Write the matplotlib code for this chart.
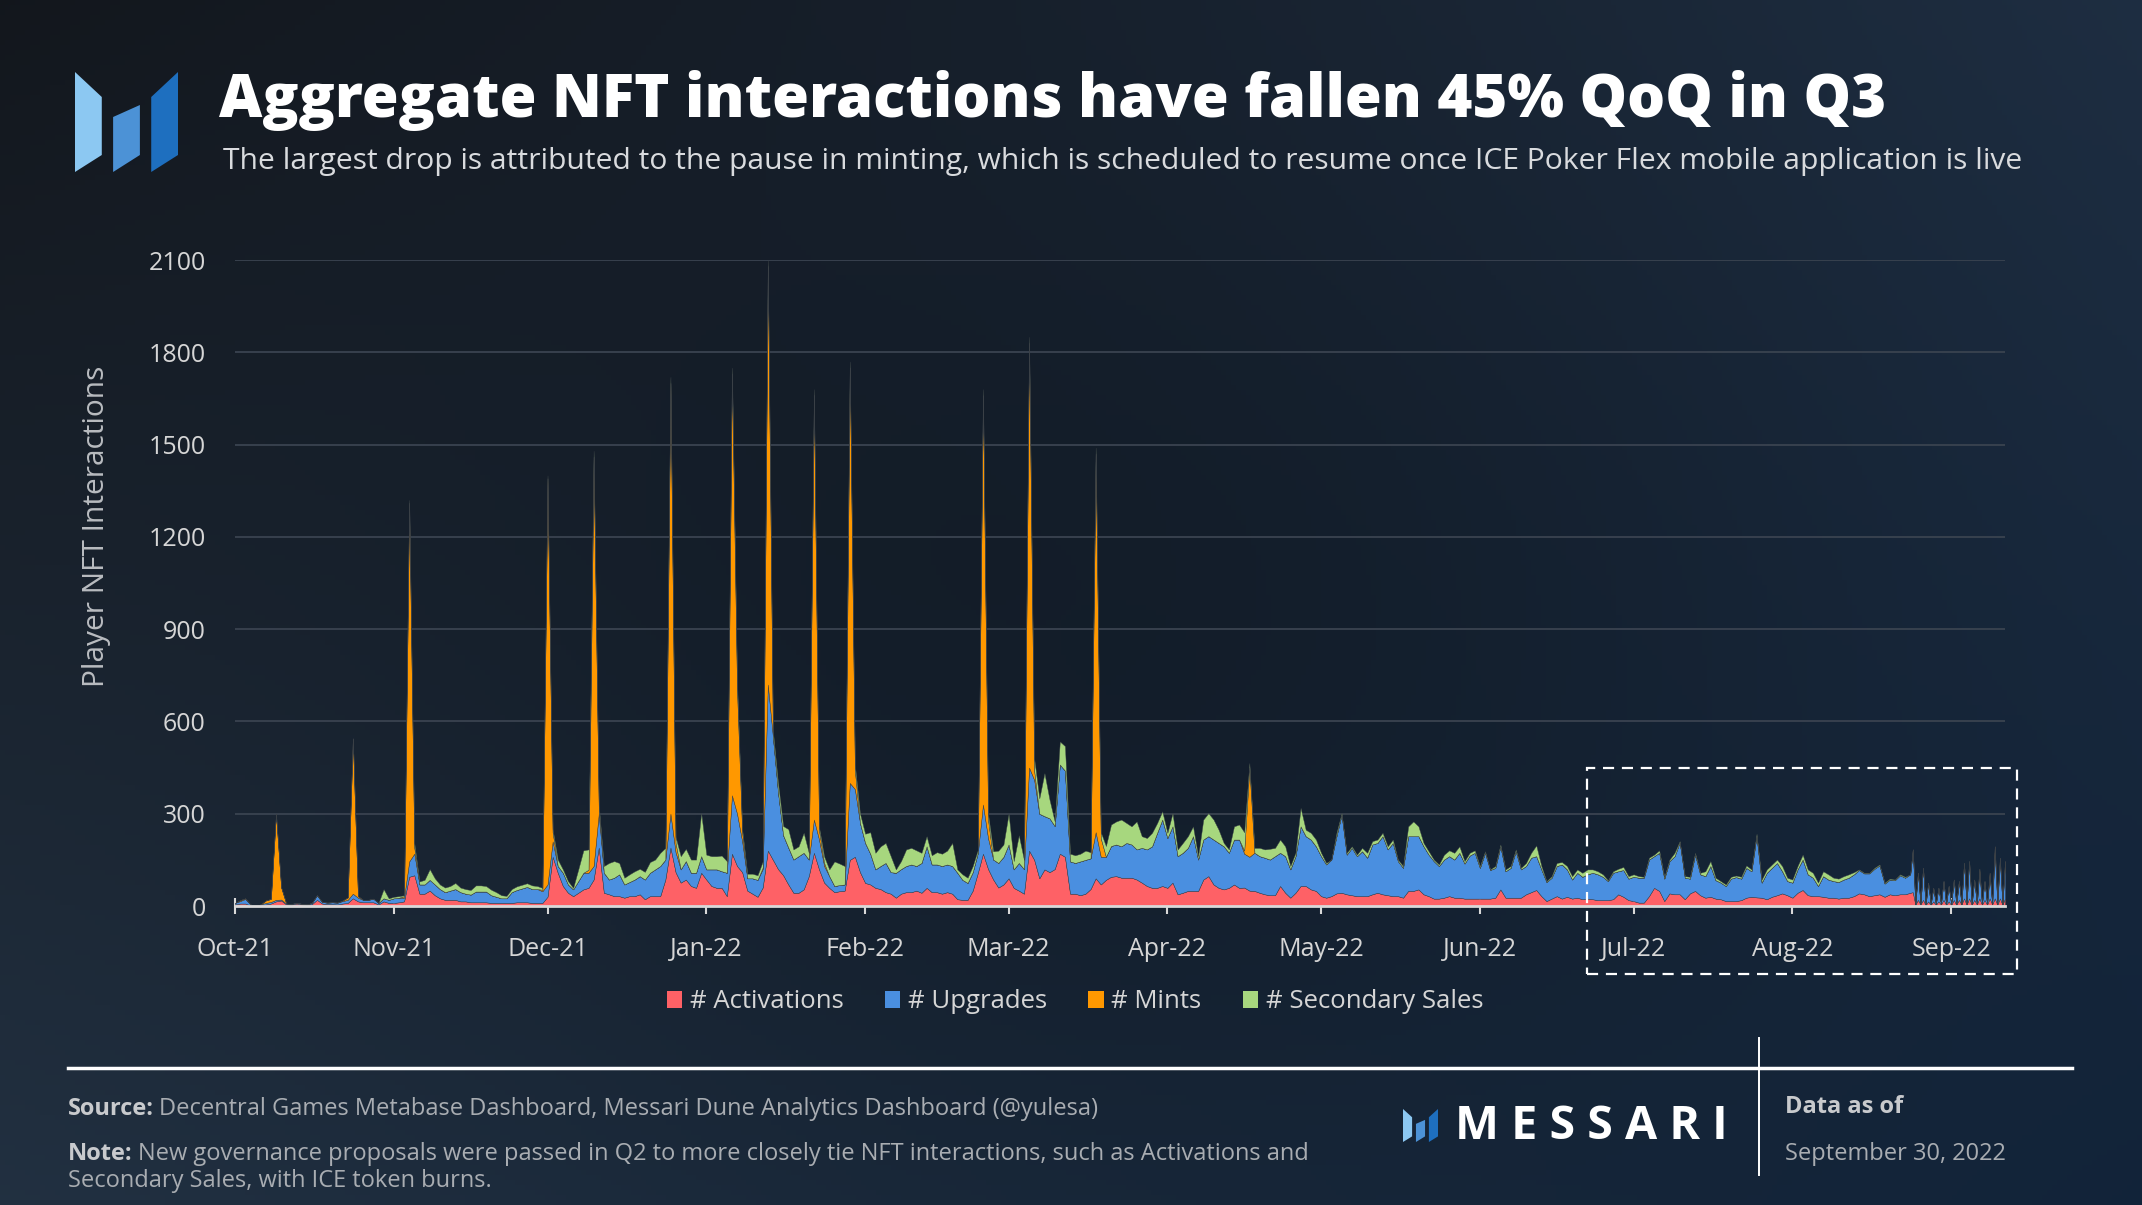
import datetime as dt

import matplotlib
matplotlib.use("Agg")
import matplotlib.pyplot as plt
import matplotlib.dates as mdates
from matplotlib.patches import Polygon, Rectangle, Patch
import numpy as np

# ---------------- data (daily, starting 2021-10-01) ----------------
activations = [
    5, 8, 8, 2, 0, 3, 5, 8, 15, 18,
    5, 4, 8, 5, 3, 6, 20, 8, 6, 6,
    5, 8, 10, 25, 15, 12, 12, 12, 5, 15,
    10, 10, 12, 15, 95, 100, 40, 40, 50, 35,
    25, 20, 20, 20, 15, 15, 12, 12, 12, 12,
    10, 10, 10, 10, 10, 12, 12, 12, 10, 10,
    10, 30, 160, 108, 65, 43, 32, 43, 54, 59,
    86, 190, 43, 38, 32, 32, 27, 32, 32, 38,
    22, 32, 32, 32, 86, 190, 110, 76, 86, 65,
    59, 108, 86, 65, 59, 59, 32, 170, 130, 110,
    50, 40, 30, 60, 180, 150, 120, 100, 70, 43,
    43, 54, 97, 173, 119, 76, 59, 45, 48, 50,
    150, 160, 110, 75, 70, 59, 55, 45, 40, 27,
    40, 45, 45, 50, 43, 59, 45, 45, 40, 45,
    40, 22, 20, 20, 50, 108, 170, 120, 86, 60,
    70, 90, 59, 50, 40, 180, 150, 90, 119, 110,
    120, 170, 160, 40, 40, 35, 40, 55, 90, 70,
    85, 95, 97, 92, 92, 92, 86, 76, 65, 59,
    59, 65, 59, 76, 38, 43, 49, 49, 49, 86,
    97, 70, 59, 54, 59, 70, 59, 60, 50, 49,
    43, 38, 35, 35, 65, 43, 27, 43, 65, 65,
    54, 49, 32, 27, 32, 41, 43, 38, 35, 32,
    32, 32, 38, 43, 38, 35, 32, 32, 27, 49,
    49, 54, 38, 32, 24, 24, 27, 32, 27, 27,
    24, 24, 24, 24, 24, 24, 27, 54, 27, 27,
    27, 27, 38, 45, 52, 32, 16, 24, 32, 24,
    30, 24, 27, 22, 24, 22, 19, 19, 19, 22,
    38, 30, 19, 16, 11, 11, 32, 59, 49, 16,
    41, 38, 38, 22, 41, 49, 35, 27, 30, 24,
    22, 16, 16, 16, 19, 27, 30, 28, 27, 22,
    30, 35, 41, 35, 27, 43, 52, 35, 32, 32,
    30, 27, 27, 24, 27, 27, 32, 41, 38, 32,
    35, 38, 30, 38, 35, 38, 38, 43,
]
upgrades = [
    5, 8, 15, 3, 2, 2, 5, 5, 5, 3,
    3, 2, 3, 2, 2, 4, 15, 5, 5, 6,
    6, 8, 10, 15, 12, 8, 8, 12, 5, 10,
    10, 15, 15, 12, 50, 70, 30, 30, 35, 35,
    30, 25, 30, 35, 30, 25, 25, 35, 35, 35,
    25, 20, 15, 15, 35, 40, 45, 50, 45, 45,
    38, 40, 50, 22, 43, 27, 22, 38, 54, 49,
    44, 110, 65, 48, 60, 71, 43, 46, 54, 59,
    64, 76, 87, 98, 65, 110, 65, 43, 60, 43,
    49, 54, 33, 54, 60, 54, 76, 190, 170, 100,
    40, 50, 55, 60, 540, 400, 250, 130, 120, 108,
    119, 119, 54, 108, 97, 54, 38, 20, 20, 20,
    250, 220, 160, 130, 100, 60, 75, 95, 70, 81,
    80, 85, 90, 80, 97, 135, 90, 90, 90, 90,
    90, 86, 65, 55, 60, 65, 160, 100, 65, 80,
    90, 110, 60, 90, 80, 270, 260, 210, 173, 175,
    140, 290, 280, 105, 100, 110, 110, 100, 150, 90,
    75, 100, 103, 102, 113, 108, 98, 113, 119, 135,
    179, 216, 162, 183, 124, 130, 140, 178, 102, 130,
    130, 146, 146, 140, 114, 146, 157, 110, 110, 124,
    119, 119, 116, 127, 108, 119, 92, 119, 194, 162,
    162, 145, 130, 108, 119, 186, 254, 129, 154, 130,
    146, 125, 162, 162, 189, 149, 173, 114, 97, 178,
    178, 173, 156, 135, 122, 106, 124, 130, 124, 146,
    114, 140, 149, 100, 149, 93, 97, 140, 86, 97,
    151, 92, 92, 112, 110, 87, 62, 68, 98, 111,
    89, 62, 81, 73, 79, 86, 84, 76, 62, 86,
    75, 87, 70, 79, 81, 81, 119, 103, 124, 73,
    105, 124, 169, 70, 48, 118, 68, 70, 100, 60,
    54, 49, 73, 78, 70, 97, 83, 200, 49, 86,
    94, 105, 72, 46, 49, 76, 99, 68, 60, 33,
    67, 59, 54, 54, 59, 65, 71, 76, 68, 74,
    86, 94, 43, 48, 49, 62, 54, 60,
]
mints = [
    0, 3, 2, 0, 0, 0, 8, 10, 280, 40,
    0, 0, 0, 0, 0, 0, 0, 0, 0, 0,
    0, 2, 8, 505, 5, 0, 0, 0, 0, 0,
    0, 0, 0, 5, 1165, 20, 0, 0, 0, 0,
    0, 0, 0, 0, 0, 0, 0, 0, 0, 0,
    0, 0, 0, 0, 0, 0, 0, 0, 0, 0,
    5, 1320, 30, 0, 0, 0, 0, 0, 0, 10,
    1330, 20, 0, 0, 0, 0, 0, 0, 0, 0,
    0, 0, 0, 0, 0, 1400, 30, 0, 0, 0,
    0, 0, 0, 0, 0, 0, 0, 1370, 400, 30,
    0, 0, 0, 5, 1360, 0, 0, 0, 0, 0,
    0, 0, 0, 1380, 30, 10, 0, 0, 0, 0,
    1350, 60, 0, 0, 0, 0, 0, 0, 0, 0,
    0, 0, 0, 0, 0, 0, 0, 0, 0, 0,
    0, 0, 0, 0, 0, 0, 1330, 60, 0, 0,
    0, 0, 0, 0, 0, 1380, 30, 0, 0, 0,
    0, 0, 0, 0, 0, 0, 0, 0, 1230, 60,
    0, 0, 0, 0, 0, 0, 0, 0, 0, 0,
    0, 0, 0, 0, 0, 0, 0, 0, 0, 0,
    0, 0, 0, 0, 0, 0, 0, 10, 290, 0,
] + [0] * 128
secondary_sales = [
    0, 0, 0, 0, 0, 0, 0, 0, 0, 0,
    0, 0, 0, 0, 0, 0, 0, 0, 0, 0,
    0, 0, 0, 0, 0, 0, 0, 0, 0, 30,
    5, 5, 5, 3, 10, 15, 10, 15, 35, 20,
    15, 15, 15, 20, 15, 15, 15, 20, 20, 18,
    18, 15, 10, 8, 10, 12, 12, 12, 12, 10,
    6, 10, 10, 21, 11, 11, 5, 38, 73, 66,
    20, 10, 22, 54, 54, 37, 22, 25, 27, 24,
    25, 35, 32, 43, 38, 20, 20, 43, 40, 43,
    43, 140, 48, 43, 43, 51, 38, 20, 30, 10,
    15, 15, 15, 20, 20, 20, 30, 30, 60, 33,
    32, 65, 22, 19, 11, 21, 22, 80, 70, 60,
    20, 20, 30, 30, 70, 54, 64, 65, 52, 11,
    26, 54, 54, 51, 33, 33, 30, 40, 40, 45,
    75, 11, 18, 17, 20, 10, 20, 20, 27, 40,
    40, 100, 27, 90, 30, 20, 40, 50, 140, 60,
    15, 75, 80, 25, 25, 25, 30, 20, 20, 20,
    35, 70, 75, 87, 65, 59, 91, 38, 37, 44,
    32, 27, 17, 43, 22, 32, 38, 32, 11, 65,
    75, 65, 43, 11, 11, 43, 49, 60, 15, 16,
    27, 27, 35, 27, 43, 32, 11, 11, 60, 21,
    22, 22, 11, 5, 0, 11, 5, 6, 5, 5,
    11, 16, 11, 11, 11, 10, 11, 5, 6, 32,
    48, 32, 11, 11, 5, 5, 16, 19, 22, 21,
    8, 9, 8, 6, 5, 2, 6, 6, 6, 6,
    6, 5, 10, 16, 35, 11, 3, 5, 10, 8,
    11, 11, 11, 13, 16, 11, 10, 8, 3, 5,
    8, 10, 8, 8, 5, 3, 6, 5, 8, 6,
    5, 11, 4, 5, 6, 6, 5, 16, 16, 8,
    5, 5, 6, 5, 6, 8, 6, 7, 10, 11,
    11, 11, 17, 11, 10, 11, 16, 16, 16, 11,
    16, 17, 11, 11, 11, 11, 7, 2, 2, 2,
    3, 3, 3, 3, 2, 3, 3, 0,
]

# last weeks are reported twice a day: a reading, then an almost empty slot
tail_act_peak = [45, 20, 20, 15, 15, 15, 20, 15, 20, 20, 25, 25, 20, 25, 20, 25, 25, 25, 25]
tail_upg_peak = [139, 88, 104, 61, 44, 44, 61, 50, 66, 61, 115, 121, 66, 86, 61, 73, 154, 122, 111]
tail_mint_peak = [0, 0, 0, 0, 0, 0, 0, 0, 0, 0, 0, 0, 0, 10, 0, 10, 15, 10, 10]
tail_sales_peak = [0] * 19
tail_act_low = [4, 5, 3, 4, 4, 5, 4, 3, 4, 5, 4, 4, 5, 4, 4, 5, 4, 4]
tail_upg_low = [1, 2, 1, 1, 2, 1, 1, 2, 1, 1, 2, 1, 1, 2, 1, 1, 2, 1]
tail_mint_low = [0] * 18
tail_sales_low = [0] * 18

series_labels = ["# Activations", "# Upgrades", "# Mints", "# Secondary Sales"]
series_colors = ["#fe6166", "#4a8fe0", "#ff9800", "#a7d77e"]

title = "Aggregate NFT interactions have fallen 45% QoQ in Q3"
subtitle = ("The largest drop is attributed to the pause in minting, which is scheduled "
            "to resume once ICE Poker Flex mobile application is live")


def interleave(high, low):
    out = []
    for i, v in enumerate(high):
        out.append(v)
        if i < len(low):
            out.append(low[i])
    return out


start = mdates.date2num(dt.datetime(2021, 10, 1))
x_daily = start + np.arange(len(activations))
x_tail = start + 327.5 + 0.5 * np.arange(2 * len(tail_act_peak) - 1)
x = np.concatenate([x_daily, x_tail])
ys = [
    activations + interleave(tail_act_peak, tail_act_low),
    upgrades + interleave(tail_upg_peak, tail_upg_low),
    mints + interleave(tail_mint_peak, tail_mint_low),
    secondary_sales + interleave(tail_sales_peak, tail_sales_low),
]

# ---------------- figure ----------------
W, H = 2142, 1205
fig = plt.figure(figsize=(W / 100, H / 100), dpi=100)


def fx(px):
    return px / W


def fy(py):
    return 1 - py / H


# background gradient
gh, gw = 241, 428
u = np.linspace(0, 1, gw)[None, :, None]
v = np.linspace(0, 1, gh)[:, None, None]
tl = np.array([0x13, 0x17, 0x1d]) / 255
tr = np.array([0x1e, 0x2e, 0x42]) / 255
bl = np.array([0x22, 0x31, 0x42]) / 255
br = np.array([0x12, 0x24, 0x3a]) / 255
grad = (1 - v) * ((1 - u) * tl + u * tr) + v * ((1 - u) * bl + u * br)
blob = np.exp(-(((u - 0.5) / 0.35) ** 2 + ((v - 0.55) / 0.45) ** 2))
grad = grad * (1 - 0.25 * blob)
bg = fig.add_axes([0, 0, 1, 1])
bg.imshow(grad, aspect="auto", extent=[0, 1, 0, 1], origin="upper")
bg.axis("off")

# main chart
ax = fig.add_axes([fx(235), fy(906), fx(2005 - 235), (906 - 260) / H])
ax.set_facecolor("none")
ax.stackplot(x, *ys, colors=series_colors, edgecolor="#3a4046", linewidth=0.3)
ax.set_xlim(start, start + 345.5)
ax.set_ylim(0, 2100)
ax.set_yticks(range(0, 2101, 300))
ax.grid(axis="y", color="#3a4350", linewidth=1.3)
ax.set_axisbelow(True)
for s in ["top", "right", "left"]:
    ax.spines[s].set_visible(False)
ax.spines["bottom"].set_color("#d9d9d9")
ax.spines["bottom"].set_linewidth(2)
ax.spines["bottom"].set_zorder(5)
ax.xaxis.set_major_locator(mdates.MonthLocator())
ax.xaxis.set_major_formatter(mdates.DateFormatter("%b-%y"))
ax.tick_params(axis="y", length=0, pad=21, labelsize=18, labelcolor="#d6d6d6")
ax.tick_params(axis="x", direction="inout", length=12, width=1.5, color="#d9d9d9",
               pad=16, labelsize=18, labelcolor="#d6d6d6")
for lab in ax.get_xticklabels() + ax.get_yticklabels():
    lab.set_family("Open Sans")

fig.text(fx(97), fy(526), "Player NFT Interactions", rotation=90, ha="center", va="center",
         fontsize=21.5, color="#b9bcc0", family="Open Sans")

# Q3 highlight box
ax.add_patch(Rectangle((start + 264, -221), 83.8, 670, fill=False, edgecolor="white",
                       linewidth=1.6, linestyle=(0, (5, 3.5)), clip_on=False, zorder=6))

# legend
handles = [Patch(facecolor=c, edgecolor="none") for c in series_colors]
fig.legend(handles, series_labels, loc="center", bbox_to_anchor=(fx(1075), fy(1002)),
           ncol=4, frameon=False, labelcolor="#d6d6d6",
           handlelength=0.6, handleheight=0.6, handletextpad=0.3, columnspacing=1.6,
           prop={"family": "Open Sans", "size": 18.5})

renderer = fig.canvas.get_renderer()


def fit_width(t, width_px):
    w = t.get_window_extent(renderer).width
    t.set_fontsize(t.get_fontsize() * width_px / w)


# title + subtitle
t = fig.text(fx(219), fy(117), title, fontsize=40, fontweight="heavy", color="white",
             family="Open Sans", va="baseline")
fit_width(t, 1663)
t = fig.text(fx(223), fy(169), subtitle, fontsize=22, color="#d9dbde", family="Open Sans",
             va="baseline")
fit_width(t, 1796)

# logo


def draw_logo(x0, y0, w, h):
    shapes = [
        ([(0, 0), (0.26, 0.25), (0.26, 0.83), (0, 1.0)], "#8cc8f2"),
        ([(0.37, 0.45), (0.63, 0.33), (0.63, 0.83), (0.37, 1.0)], "#4c92d6"),
        ([(0.74, 0.25), (1.0, 0.0), (1.0, 0.83), (0.74, 1.0)], "#1e6fbf"),
    ]
    for pts, c in shapes:
        xy = [(fx(x0 + a * w), fy(y0 + b * h)) for a, b in pts]
        fig.add_artist(Polygon(xy, closed=True, facecolor=c, edgecolor="none",
                               transform=fig.transFigure))


draw_logo(75, 72, 103, 100)
draw_logo(1403, 1109, 35, 33)

# footer rules
fig.add_artist(plt.Line2D([fx(68), fx(2072)], [fy(1068), fy(1068)], color="white",
                          linewidth=2.5, transform=fig.transFigure))
fig.add_artist(plt.Line2D([fx(1759), fx(1759)], [fy(1038), fy(1175)], color="white",
                          linewidth=1.4, transform=fig.transFigure))


def bold_then_text(x0, y0, head, rest, size, c1, c2):
    t1 = fig.text(fx(x0), fy(y0), head, fontsize=size, fontweight="bold", color=c1,
                  family="Open Sans", va="baseline")
    bb = t1.get_window_extent(renderer)
    return fig.text((bb.x1 + size * 0.3) / W, fy(y0), rest, fontsize=size, color=c2,
                    family="Open Sans", va="baseline")


fs = 17
bold_then_text(68, 1115, "Source:",
               "Decentral Games Metabase Dashboard, Messari Dune Analytics Dashboard (@yulesa)",
               fs, "#c8cacd", "#a9adb2")
bold_then_text(68, 1160, "Note:",
               "New governance proposals were passed in Q2 to more closely tie NFT interactions, "
               "such as Activations and", fs, "#c8cacd", "#a9adb2")
fig.text(fx(68), fy(1187), "Secondary Sales, with ICE token burns.", fontsize=fs,
         color="#a9adb2", family="Open Sans", va="baseline")

fig.text(fx(1785), fy(1113), "Data as of", fontsize=fs, fontweight="bold", color="#c8cacd",
         family="Open Sans", va="baseline")
fig.text(fx(1785), fy(1160), "September 30, 2022", fontsize=fs, color="#a9adb2",
         family="Open Sans", va="baseline")

t = fig.text(fx(1455), fy(1139), "M E S S A R I", fontsize=24, fontweight="bold", color="white",
             family="Open Sans", va="baseline")
fit_width(t, 273)

fig.savefig("out.png", dpi=100)
